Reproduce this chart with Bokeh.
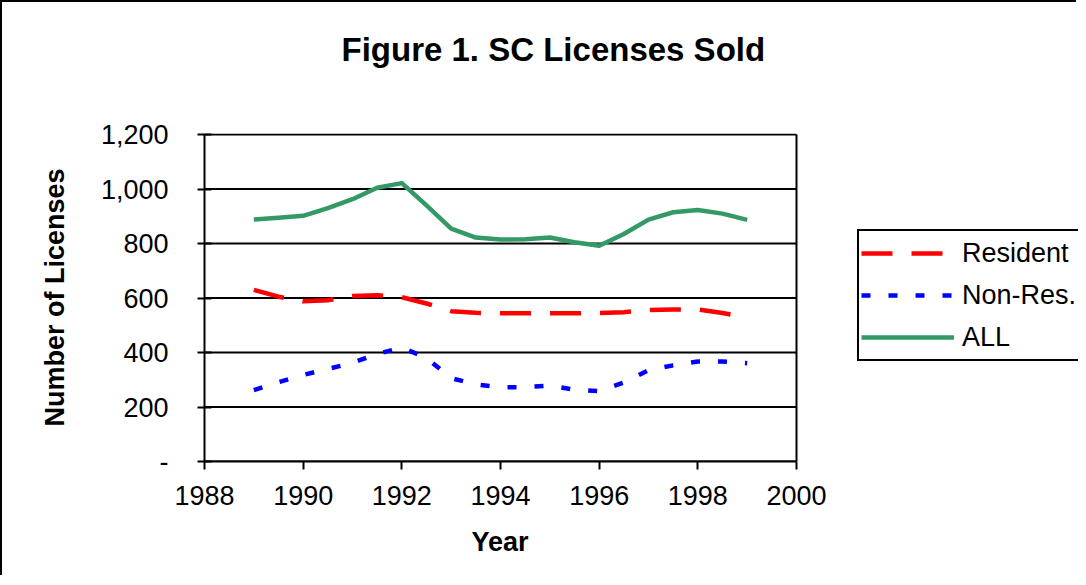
from bokeh.plotting import figure
from bokeh.models import (Legend, LegendItem, Title, FixedTicker, CustomJSTickFormatter, Range1d)
from bokeh.embed import file_html
from bokeh.resources import INLINE

# ---- data ----
years = [1989.0, 1989.5, 1990.0, 1990.5, 1991.0, 1991.5, 1992.0, 1992.5, 1993.0, 1993.5,
         1994.0, 1994.5, 1995.0, 1995.5, 1996.0, 1996.5, 1997.0, 1997.5, 1998.0, 1998.5, 1999.0]
resident = [630, 605, 588, 592, 608, 610, 603, 580, 552, 546,
            544, 544, 544, 544, 545, 548, 556, 558, 558, 545, 528]
non_res = [262, 291, 318, 340, 362, 395, 418, 380, 306, 283,
           273, 273, 278, 264, 258, 290, 335, 353, 367, 367, 361]
all_lic = [888, 895, 902, 930, 963, 1005, 1022, 940, 855, 822,
           815, 816, 822, 805, 792, 835, 888, 915, 923, 910, 887]

x_ticks = [1988, 1990, 1992, 1994, 1996, 1998, 2000]
y_ticks = [0, 200, 400, 600, 800, 1000, 1200]
series_names = ["Resident", "Non-Res.", "ALL"]
title_text = "Figure 1.  SC Licenses Sold"
x_title = "Year"
y_title = "Number of Licenses"

FONT = "Liberation Sans"

W, H = 1076, 575
LEFT, TOP, BOTTOM = 202, 131, 116
px_per_year = 592 / (x_ticks[-1] - x_ticks[0])
# the frame runs on to the right edge so that the legend (drawn inside it) is visible
x_end = x_ticks[0] + (W - LEFT) / px_per_year
y_end = y_ticks[-1] * 1.0034

p = figure(width=W, height=H, output_backend="svg", toolbar_location=None,
           x_range=Range1d(x_ticks[0], x_end), y_range=Range1d(y_ticks[0], y_end),
           min_border_left=LEFT, min_border_right=0, min_border_top=TOP, min_border_bottom=BOTTOM,
           background_fill_color="white", border_fill_color="white")
p.styles = {"border-left": "2px solid black", "border-top": "2px solid black"}
p.outline_line_color = None

# plot-area box and horizontal grid lines, limited to the axes' extent
p.xgrid.grid_line_color = None
p.ygrid.grid_line_color = None
p.segment(x0=[x_ticks[0]] * len(y_ticks), x1=[x_ticks[-1]] * len(y_ticks), y0=y_ticks, y1=y_ticks,
          line_color="black", line_width=2)
p.segment(x0=[x_ticks[-1]], x1=[x_ticks[-1]], y0=[y_ticks[0]], y1=[y_ticks[-1]],
          line_color="black", line_width=2)

# axes
p.xaxis.ticker = FixedTicker(ticks=x_ticks)
p.yaxis.ticker = FixedTicker(ticks=y_ticks)
p.xaxis.bounds = (x_ticks[0], x_ticks[-1])
p.yaxis.bounds = (y_ticks[0], y_ticks[-1])
p.yaxis.formatter = CustomJSTickFormatter(code='return tick == 0 ? "-" : tick.toLocaleString("en-US");')
for ax in (p.xaxis[0], p.yaxis[0]):
    ax.axis_line_color = "black"
    ax.axis_line_width = 2
    ax.major_tick_line_color = "black"
    ax.major_tick_line_width = 2
    ax.minor_tick_line_color = None
    ax.major_label_text_font = FONT
    ax.major_label_text_font_size = "27px"
    ax.major_label_text_color = "black"
    ax.axis_label_text_font = FONT
    ax.axis_label_text_font_style = "bold"
    ax.axis_label_text_font_size = "27px"
    ax.axis_label_text_color = "black"

p.xaxis.major_tick_in = 0
p.xaxis.major_tick_out = 8
p.xaxis.major_label_standoff = 16

p.yaxis.major_tick_in = 7
p.yaxis.major_tick_out = 7
p.yaxis.major_label_standoff = 29
p.yaxis.axis_label = y_title
p.yaxis.axis_label_standoff = 28

# x-axis title, centred under the plotted years (below the tick labels)
xt = Title(text=x_title, align="left", offset=267, standoff=35, vertical_align="bottom",
           text_font=FONT, text_font_style="bold", text_font_size="27px", text_color="black")
p.add_layout(xt, "below")

# lines
r_res = p.line(years, resident, line_color="#FF0000", line_width=4.5, line_dash="31 19")
r_non = p.line(years, non_res, line_color="#0000FF", line_width=4.5, line_dash="9 18")
r_all = p.line(years, all_lic, line_color="#339966", line_width=4.5, line_join="round")

legend = Legend(items=[LegendItem(label=series_names[0], renderers=[r_res]),
                       LegendItem(label=series_names[1], renderers=[r_non]),
                       LegendItem(label=series_names[2], renderers=[r_all])],
                location=(653, 100), orientation="vertical",
                glyph_width=93, glyph_height=40, spacing=2, padding=2, margin=0,
                label_standoff=8, label_text_font=FONT, label_text_font_size="27px",
                label_text_color="black", border_line_color="black", border_line_width=2,
                border_line_alpha=1.0, background_fill_color="white", background_fill_alpha=1.0)
p.add_layout(legend, "center")

# title: a blank spacer next to the frame, then the real title further out
spacer = Title(text=" ", text_font_size="13px", standoff=47)
p.add_layout(spacer, "above")
title = Title(text=title_text, align="left", offset=137, standoff=0, vertical_align="top",
              text_font=FONT, text_font_style="bold", text_font_size="33px", text_color="black")
p.add_layout(title, "above")

open("out.html", "w").write(file_html(p, INLINE))
